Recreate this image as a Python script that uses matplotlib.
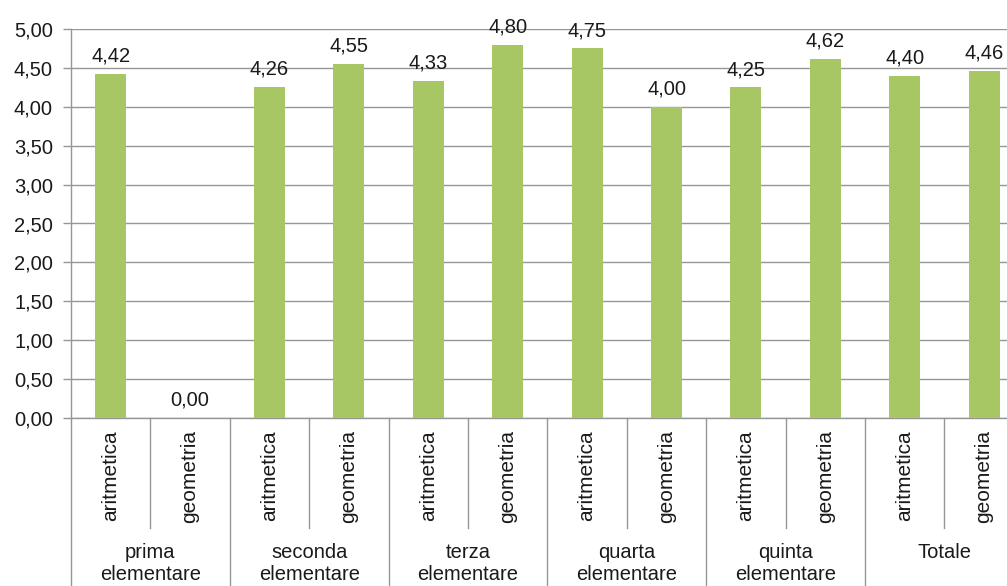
import numpy as np
import matplotlib.pyplot as plt

plt.rcParams["font.family"] = ["Liberation Sans", "DejaVu Sans"]

# dati
gruppi = ["prima\nelementare", "seconda\nelementare", "terza\nelementare",
          "quarta\nelementare", "quinta\nelementare", "Totale"]
materie = ["aritmetica", "geometria"]
aritmetica = [4.42, 4.26, 4.33, 4.75, 4.25, 4.40]
geometria = [0.00, 4.55, 4.80, 4.00, 4.62, 4.46]
y_ticks = [0.0, 0.5, 1.0, 1.5, 2.0, 2.5, 3.0, 3.5, 4.0, 4.5, 5.0]

valori = []
etichette = []
for a, g in zip(aritmetica, geometria):
    valori += [a, g]
    etichette += materie

GRID = "#969696"
BAR = "#A6C763"
TXT = "#1a1a1a"
FS = 14.5

fig = plt.figure(figsize=(10.07, 5.86), dpi=100)
ax = fig.add_axes([71 / 1007, (586 - 418) / 586, 12 * 79.4 / 1007, 389 / 586])

x = np.arange(len(valori))
ax.bar(x, valori, width=0.39, color=BAR, zorder=3)

for xi, v in zip(x, valori):
    ax.annotate(f"{v:.2f}".replace(".", ","), (xi, v), xytext=(0, 6),
                textcoords="offset points", ha="center", va="bottom",
                fontsize=FS, color=TXT)

ax.set_xlim(-0.5, len(valori) - 0.5)
ax.set_ylim(0, 5)
ax.set_yticks(y_ticks)
ax.set_yticklabels([f"{t:.2f}".replace(".", ",") for t in y_ticks],
                   fontsize=FS, color=TXT)
ax.yaxis.grid(True, color=GRID, lw=1, zorder=0)
ax.set_xticks([])
ax.tick_params(axis="y", length=6, width=1, color=GRID, pad=7)
for s in ["top", "right"]:
    ax.spines[s].set_visible(False)
for s in ["left", "bottom"]:
    ax.spines[s].set_color(GRID)
    ax.spines[s].set_linewidth(1)

tr = ax.get_xaxis_transform()
# etichette materie (ruotate)
for xi, lab in zip(x, etichette):
    ax.text(xi, -0.031, lab, transform=tr, rotation=90, ha="center", va="top",
            fontsize=FS + 0.5, color=TXT)

# separatori
for i in range(len(gruppi)):
    ax.plot([2 * i + 0.5] * 2, [0, -0.283], transform=tr, color=GRID, lw=1,
            clip_on=False)
for i in range(len(gruppi) + 1):
    ax.plot([2 * i - 0.5] * 2, [0, -0.5], transform=tr, color=GRID, lw=1,
            clip_on=False)

# etichette gruppi
for i, g in enumerate(gruppi):
    ax.text(2 * i + 0.5, -0.322, g, transform=tr, ha="center", va="top",
            fontsize=FS, linespacing=1.2, color=TXT)

fig.savefig("out.png", dpi=100)
